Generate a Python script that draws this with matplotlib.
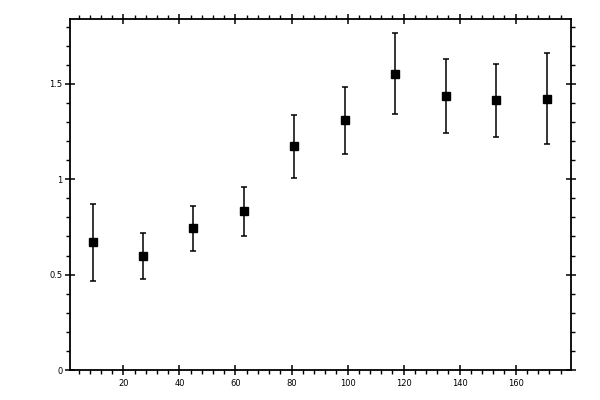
import matplotlib
matplotlib.use('Agg')
from matplotlib import pyplot as plt
from matplotlib.ticker import MultipleLocator, FixedLocator

# values
x_vals = [9, 27, 45, 63, 81, 99, 117, 135, 153, 171]
y_vals = [0.669, 0.596, 0.742, 0.831, 1.172, 1.308, 1.554, 1.434, 1.413, 1.423]
y_err = [0.20, 0.12, 0.12, 0.13, 0.163, 0.178, 0.212, 0.194, 0.19, 0.24]
x_ticks = [20, 40, 60, 80, 100, 120, 140, 160]
y_ticks = [0, 0.5, 1, 1.5]
y_labels = ['0', '0.5', '1', '1.5']

fig = plt.figure(figsize=(6, 4), dpi=100)
ax = fig.add_axes([0.116, 0.075, 0.835, 0.8775])

ax.errorbar(x_vals, y_vals, yerr=y_err, fmt='s', color='black',
            markersize=5.2, elinewidth=1.1, capsize=2.3, capthick=1.1)

ax.set_xlim(0.8, 179.6)
ax.set_ylim(0, 1.84)

ax.xaxis.set_major_locator(FixedLocator(x_ticks))
ax.xaxis.set_minor_locator(MultipleLocator(4))
ax.set_yticks(y_ticks)
ax.set_yticklabels(y_labels)
ax.yaxis.set_minor_locator(MultipleLocator(0.1))

for s in ax.spines.values():
    s.set_linewidth(1.3)

ax.tick_params(which='major', direction='inout', length=6.5, width=1.1,
               top=True, right=True, labelsize=6, pad=2)
ax.tick_params(which='minor', direction='out', length=2.6, width=1.0,
               top=True, right=True)
ax.tick_params(axis='x', which='major', pad=3)

fig.savefig('out.png', dpi=100)
